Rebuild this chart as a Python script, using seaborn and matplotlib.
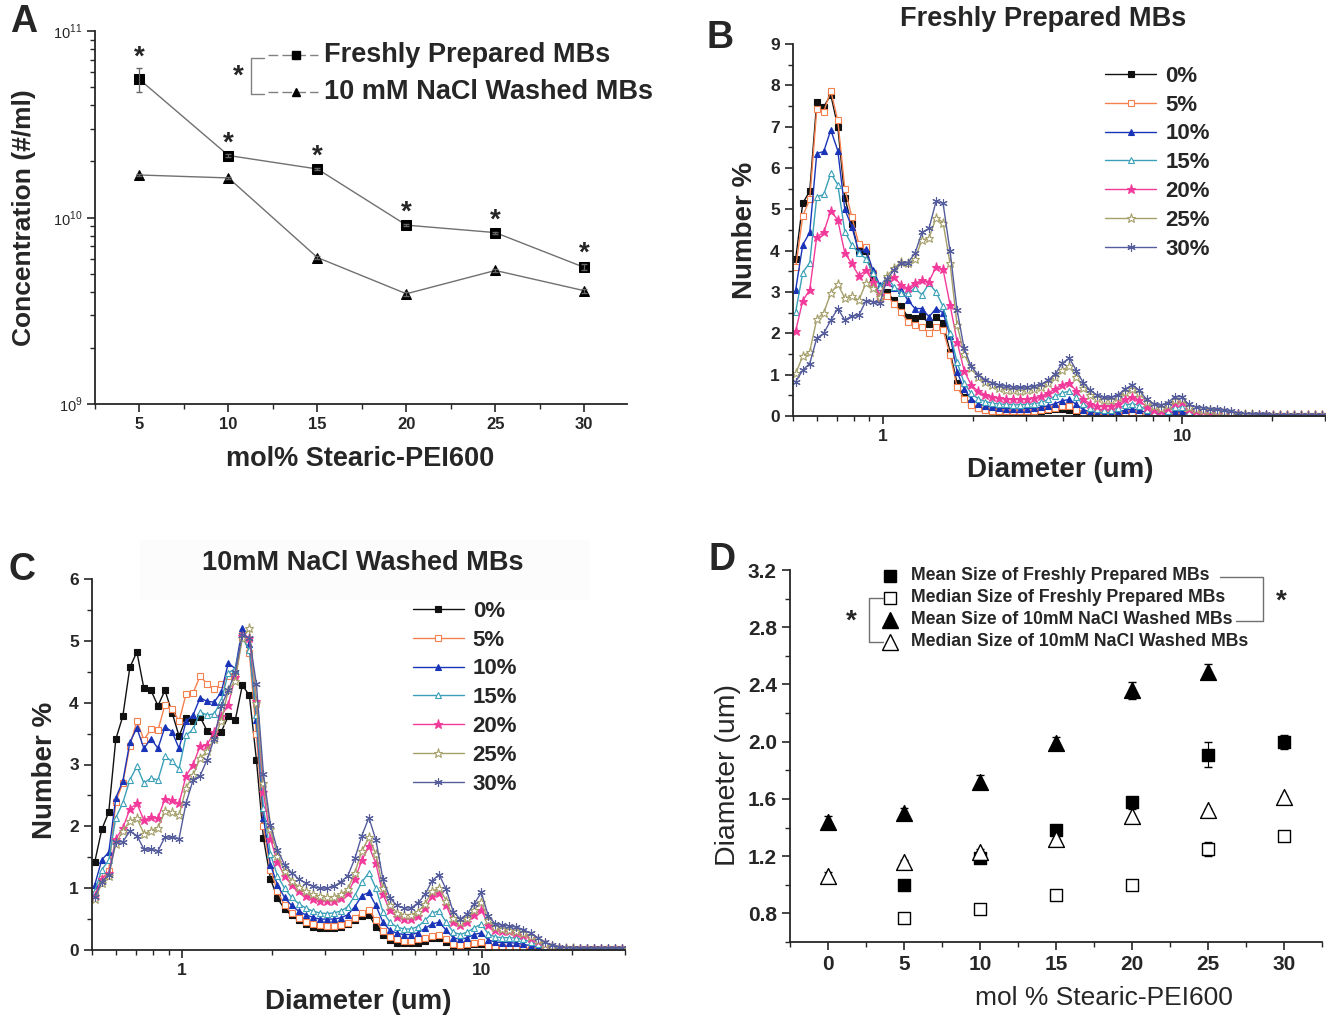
import numpy as np
import matplotlib
matplotlib.use('Agg')
import matplotlib.pyplot as plt
from matplotlib.lines import Line2D
from matplotlib.patches import Rectangle
from matplotlib.ticker import MultipleLocator, LogLocator, NullFormatter
import seaborn as sns

W, H = 1326, 1018

# ── Panel A: concentration vs mol% ────────────────────────────────
mol_a = [5, 10, 15, 20, 25, 30]
conc_fresh = [5.5e10, 2.15e10, 1.82e10, 9.1e9, 8.3e9, 5.4e9]
conc_fresh_err = [0.8e10, 0.03e10, 0.03e10, 0.01e10, 0.01e10, 0.02e10]
conc_washed = [1.69e10, 1.63e10, 6.1e9, 3.9e9, 5.2e9, 4.05e9]
conc_washed_err = [0.02e10, 0.02e10, 0.01e10, 0.01e10, 0.01e10, 0.01e10]

# ── Panels B / C: size distributions (Number %) ───────────────────
diam = [0.5105, 0.5390, 0.5687, 0.6003, 0.6335, 0.6687, 0.7058, 0.7450, 0.7862, 0.8299,
        0.8759, 0.9246, 0.9759, 1.0300, 1.0872, 1.1475, 1.2112, 1.2784, 1.3494, 1.4243,
        1.5031, 1.5867, 1.6748, 1.7677, 1.8658, 1.9694, 2.0786, 2.1941, 2.3158, 2.4444,
        2.5800, 2.7232, 2.8743, 3.0339, 3.2022, 3.3800, 3.5675, 3.7654, 3.9744, 4.1949,
        4.4259, 4.6715, 4.9307, 5.2044, 5.4932, 5.7980, 6.1196, 6.4594, 6.8181, 7.1961,
        7.5955, 8.0169, 8.4619, 8.9314, 9.4270, 9.9483, 10.500, 11.083, 11.698, 12.347,
        13.032, 13.755, 14.518, 15.324, 16.174, 17.072, 18.019, 19.019, 20.074, 21.188,
        22.364, 23.604, 24.915, 26.297, 27.755, 29.297]

labels_pct = ['0%', '5%', '10%', '15%', '20%', '25%', '30%']

fresh_0 = [3.81, 5.15, 5.44, 7.60, 7.48, 7.77, 7.00, 5.27, 4.64, 3.98, 4.00, 3.35, 2.85, 3.00, 2.80,
           2.65, 2.40, 2.38, 2.42, 2.23, 2.40, 2.25, 1.55, 0.80, 0.45, 0.30,
           0.20, 0.14, 0.11, 0.10, 0.10, 0.10, 0.10, 0.10, 0.11, 0.12, 0.14, 0.16, 0.17, 0.15, 0.06,
           0.02, 0.01,
           0, 0, 0, 0, 0, 0, 0, 0, 0, 0, 0,
           0, 0, 0, 0, 0, 0, 0, 0, 0, 0, 0,
           0, 0, 0, 0, 0, 0, 0, 0, 0, 0, 0]
fresh_5 = [3.60, 4.84, 5.24, 7.42, 7.36, 7.87, 7.15, 5.50, 4.82, 4.16, 4.10, 3.45, 2.85, 2.90, 2.72,
           2.52, 2.28, 2.20, 2.16, 2.00, 2.16, 2.08, 1.48, 0.70, 0.42, 0.27,
           0.20, 0.15, 0.13, 0.12, 0.12, 0.12, 0.12, 0.12, 0.13, 0.14,
           0.16, 0.19, 0.23, 0.25, 0.15, 0.07, 0.05, 0.04, 0.04, 0.05,
           0.06, 0.08, 0.09, 0.07, 0.04, 0.02, 0.02, 0.03, 0.05, 0.05,
           0.02, 0.02, 0.01,
           0.01, 0.01, 0.01, 0.01, 0.01, 0.01, 0.01, 0.01, 0.01, 0.01, 0.01, 0.01, 0.01, 0.01,
           0.01, 0.01, 0.01]
fresh_10 = [3.06, 4.14, 4.44, 6.35, 6.40, 6.92, 6.42, 5.00, 4.58, 3.97, 4.04, 3.53, 3.17, 3.23, 3.09,
            3.05, 2.80, 2.60, 2.60, 2.40, 2.60, 2.50, 1.94, 1.07, 0.65, 0.42,
            0.30, 0.24, 0.21, 0.19, 0.18, 0.18, 0.18, 0.18, 0.19, 0.21,
            0.25, 0.30, 0.37, 0.40, 0.28, 0.15, 0.10, 0.08, 0.07, 0.08,
            0.10, 0.14, 0.17, 0.14, 0.08, 0.05, 0.05, 0.07, 0.10, 0.10,
            0.05, 0.04, 0.04, 0.03, 0.03, 0.02, 0.02,
            0.01, 0.01, 0.01, 0.01, 0.01, 0.01, 0.01, 0.01, 0.01, 0.01, 0.01, 0.01, 0.01]
fresh_15 = [2.52, 3.47, 3.71, 5.30, 5.36, 5.87, 5.60, 4.46, 4.14, 3.94, 3.81, 3.45, 3.13, 3.37, 3.13,
            2.97, 2.97, 3.09, 2.93, 3.21, 3.00, 2.65, 2.00, 1.30, 0.80, 0.55,
            0.42, 0.35, 0.31, 0.29, 0.28, 0.27, 0.27, 0.28, 0.30, 0.33,
            0.40, 0.48, 0.56, 0.60, 0.45, 0.28, 0.20, 0.16, 0.14, 0.15,
            0.19, 0.26, 0.30, 0.25, 0.14, 0.10, 0.09, 0.13, 0.21, 0.22,
            0.10, 0.08, 0.07, 0.06, 0.05, 0.04, 0.03, 0.02,
            0.02, 0.02, 0.02, 0.02, 0.02, 0.02, 0.02, 0.02, 0.02, 0.02, 0.02, 0.02]
fresh_20 = [2.06, 2.79, 3.05, 4.34, 4.44, 4.97, 4.74, 3.94, 3.69, 3.39, 3.53, 3.25, 2.93, 3.25, 3.37,
            3.17, 3.09, 3.21, 3.29, 3.25, 3.61, 3.55, 2.69, 1.80, 1.10, 0.75,
            0.60, 0.52, 0.47, 0.44, 0.42, 0.41, 0.41, 0.42, 0.44, 0.48,
            0.56, 0.66, 0.76, 0.80, 0.60, 0.40, 0.30, 0.25, 0.23, 0.24,
            0.30, 0.40, 0.47, 0.38, 0.22, 0.15, 0.13, 0.19, 0.32, 0.33,
            0.16, 0.12, 0.11, 0.10, 0.09, 0.07, 0.05, 0.04, 0.03, 0.03,
            0.02, 0.02, 0.02, 0.02, 0.02, 0.02, 0.02, 0.02, 0.02, 0.02]
fresh_25 = [1.03, 1.45, 1.56, 2.34, 2.50, 2.97, 3.19, 2.85, 2.90, 2.80, 3.21, 3.09, 2.89, 3.39, 3.57,
            3.73, 3.69, 3.81, 4.26, 4.30, 4.80, 4.68, 3.69, 2.20, 1.50, 1.15,
            0.95, 0.82, 0.74, 0.68, 0.64, 0.62, 0.61, 0.62, 0.65, 0.70,
            0.80, 0.95, 1.12, 1.20, 0.95, 0.68, 0.52, 0.43, 0.38, 0.38,
            0.45, 0.57, 0.65, 0.55, 0.35, 0.24, 0.20, 0.26, 0.38, 0.40,
            0.22, 0.17, 0.15, 0.14, 0.12, 0.10, 0.08, 0.06, 0.05, 0.04,
            0.03, 0.03,
            0.02, 0.02, 0.02, 0.02, 0.02, 0.02, 0.02, 0.02]
fresh_30 = [0.83, 1.11, 1.27, 1.88, 2.00, 2.32, 2.60, 2.32, 2.42, 2.44, 2.78, 2.77, 2.73, 3.31, 3.53,
            3.69, 3.71, 3.94, 4.44, 4.54, 5.19, 5.15, 3.98, 2.56, 1.64, 1.20,
            1.00, 0.88, 0.80, 0.75, 0.72, 0.70, 0.69, 0.70, 0.72, 0.77,
            0.87, 1.02, 1.28, 1.40, 1.10, 0.80, 0.62, 0.50, 0.45, 0.45,
            0.52, 0.66, 0.75, 0.62, 0.40, 0.30, 0.26, 0.32, 0.46, 0.47,
            0.28, 0.22, 0.20, 0.18, 0.16, 0.14, 0.11, 0.08, 0.06, 0.05,
            0.04, 0.04, 0.03,
            0.03, 0.03, 0.03, 0.03, 0.03, 0.03, 0.03]

washed_0 = [1.42, 1.95, 2.23, 3.41, 3.78, 4.57, 4.82, 4.23, 4.20, 3.95, 4.20, 3.84, 3.46, 3.75,
            3.70, 3.77, 3.54, 3.46, 3.53, 3.78, 3.72, 4.28, 4.12, 3.08, 1.81, 1.15, 0.84,
            0.66, 0.56, 0.48, 0.42, 0.38, 0.36, 0.35, 0.36, 0.38, 0.42,
            0.48, 0.55, 0.57, 0.38, 0.25, 0.16, 0.12, 0.11, 0.11, 0.12,
            0.15, 0.19, 0.20, 0.13, 0.07, 0.06, 0.07, 0.09, 0.10, 0.04,
            0.03, 0.02, 0.02, 0.01,
            0, 0, 0, 0, 0, 0, 0, 0, 0, 0, 0, 0, 0, 0, 0]
washed_5 = [0.90, 1.15, 1.28, 2.40, 2.70, 3.30, 3.70, 3.40, 3.57, 3.55, 3.97, 3.90, 3.70, 4.14,
            4.16, 4.43, 4.30, 4.22, 4.30, 4.43, 4.45, 5.10, 4.80, 3.50, 2.00, 1.30, 0.95,
            0.72, 0.60, 0.52, 0.46, 0.42, 0.40, 0.39, 0.39, 0.41, 0.44,
            0.52, 0.60, 0.65, 0.48, 0.30, 0.21, 0.17, 0.15, 0.15, 0.17,
            0.20, 0.23, 0.24, 0.17, 0.10, 0.08, 0.09, 0.12, 0.13, 0.07,
            0.05, 0.05, 0.04, 0.03,
            0.03, 0.02, 0.02, 0.01, 0.01, 0.01, 0.01, 0.01, 0.01, 0.01, 0.01, 0.01, 0.01, 0.01, 0.01]
washed_10 = [1.05, 1.46, 1.58, 2.46, 2.73, 3.36, 3.59, 3.26, 3.42, 3.26, 3.61, 3.53, 3.26, 3.70,
             3.80, 4.08, 4.02, 4.01, 4.17, 4.64, 4.55, 5.20, 4.95, 3.72, 2.14, 1.38, 1.05,
             0.85, 0.72, 0.63, 0.57, 0.53, 0.50, 0.50, 0.50, 0.52, 0.57,
             0.70, 0.88, 0.93, 0.72, 0.45, 0.32, 0.27, 0.25, 0.25, 0.28,
             0.35, 0.42, 0.45, 0.32, 0.20, 0.17, 0.20, 0.25, 0.28, 0.16,
             0.13, 0.12, 0.12, 0.11,
             0.09, 0.07, 0.05, 0.03, 0.02, 0.02, 0.02, 0.02, 0.02, 0.02, 0.02, 0.02, 0.02, 0.02, 0.02]
washed_15 = [0.95, 1.30, 1.45, 2.14, 2.38, 2.75, 2.97, 2.70, 2.78, 2.75, 3.13, 3.05, 2.93, 3.47,
             3.57, 3.85, 3.80, 3.82, 4.03, 4.48, 4.55, 5.05, 4.85, 3.80, 2.30, 1.55, 1.20,
             1.00, 0.85, 0.75, 0.68, 0.63, 0.60, 0.59, 0.60, 0.63, 0.70,
             0.88, 1.10, 1.25, 1.00, 0.62, 0.45, 0.37, 0.34, 0.34, 0.38,
             0.48, 0.60, 0.63, 0.45, 0.29, 0.25, 0.29, 0.36, 0.42, 0.26,
             0.21, 0.20, 0.20, 0.19,
             0.17, 0.13, 0.09, 0.06, 0.04, 0.03, 0.02, 0.02, 0.02, 0.02, 0.02, 0.02, 0.02, 0.02, 0.02]
washed_20 = [0.88, 1.15, 1.25, 1.80, 1.97, 2.28, 2.37, 2.10, 2.15, 2.13, 2.45, 2.42, 2.37, 2.82,
             3.00, 3.30, 3.32, 3.53, 3.78, 3.97, 4.42, 5.08, 5.05, 4.03, 2.55, 1.80, 1.42,
             1.20, 1.05, 0.95, 0.88, 0.83, 0.80, 0.79, 0.80, 0.84, 0.92,
             1.15, 1.45, 1.68, 1.40, 0.90, 0.64, 0.54, 0.50, 0.50, 0.55,
             0.68, 0.88, 0.92, 0.72, 0.46, 0.40, 0.45, 0.57, 0.65, 0.41,
             0.33, 0.31, 0.30, 0.28,
             0.25, 0.20, 0.14, 0.09, 0.05, 0.03, 0.02, 0.02, 0.02, 0.02, 0.02, 0.02, 0.02, 0.02, 0.02]
washed_25 = [0.82, 1.08, 1.20, 1.72, 1.93, 2.08, 2.13, 1.88, 1.93, 1.98, 2.24, 2.23, 2.18, 2.62,
             2.83, 3.10, 3.22, 3.42, 3.70, 4.20, 4.35, 5.05, 5.20, 4.00, 2.70, 1.95, 1.52,
             1.28, 1.12, 1.02, 0.95, 0.90, 0.87, 0.85, 0.86, 0.90, 0.98,
             1.25, 1.60, 1.82, 1.55, 1.00, 0.72, 0.60, 0.57, 0.57, 0.62,
             0.75, 0.95, 1.00, 0.80, 0.52, 0.45, 0.52, 0.65, 0.78, 0.48,
             0.37, 0.34, 0.33, 0.30,
             0.27, 0.22, 0.16, 0.10, 0.06, 0.04, 0.03, 0.03, 0.02, 0.02, 0.02, 0.02, 0.02, 0.02, 0.02]
washed_30 = [0.85, 1.10, 1.22, 1.75, 1.75, 1.92, 1.85, 1.63, 1.63, 1.60, 1.83, 1.82, 1.80, 2.38,
             2.75, 2.82, 3.08, 3.42, 3.95, 4.20, 4.50, 5.10, 5.05, 4.30, 2.85, 2.02, 1.62,
             1.38, 1.25, 1.15, 1.08, 1.03, 1.00, 1.00, 1.03, 1.10, 1.20,
             1.48, 1.85, 2.14, 1.78, 1.15, 0.84, 0.72, 0.68, 0.68, 0.76,
             0.90, 1.12, 1.22, 0.98, 0.62, 0.50, 0.58, 0.75, 0.93, 0.55,
             0.42, 0.40, 0.39, 0.37,
             0.33, 0.27, 0.20, 0.13, 0.08, 0.05, 0.04, 0.03, 0.03, 0.03, 0.03, 0.03, 0.03, 0.03, 0.03]

fresh_series = [fresh_0, fresh_5, fresh_10, fresh_15, fresh_20, fresh_25, fresh_30]
washed_series = [washed_0, washed_5, washed_10, washed_15, washed_20, washed_25, washed_30]

# ── Panel D: mean / median diameters ──────────────────────────────
mol_d = [0, 5, 10, 15, 20, 25, 30]
mean_fresh = [np.nan, 1.00, 1.19, 1.38, 1.58, 1.91, 2.00]
mean_fresh_err = [np.nan, 0.02, 0.02, 0.03, 0.02, 0.09, 0.05]
median_fresh = [np.nan, 0.77, 0.83, 0.93, 1.00, 1.25, 1.34]
median_fresh_err = [np.nan, 0.02, 0.01, 0.02, 0.02, 0.05, 0.02]
mean_washed = [1.44, 1.50, 1.72, 1.99, 2.36, 2.49, np.nan]
mean_washed_err = [0.04, 0.04, 0.05, 0.04, 0.06, 0.05, np.nan]
median_washed = [1.06, 1.16, 1.23, 1.32, 1.48, 1.52, 1.61]
median_washed_err = [0.03, 0.01, 0.02, 0.05, 0.05, 0.01, 0.01]

# ── Style ─────────────────────────────────────────────────────────
sns.set_style('ticks')
plt.rcParams['font.family'] = ['Liberation Sans', 'DejaVu Sans']
plt.rcParams['mathtext.fontset'] = 'custom'
plt.rcParams['mathtext.rm'] = 'Liberation Sans'
plt.rcParams['axes.linewidth'] = 1.3

colors = ['#111111', '#F5804F', '#1A34B8', '#3AA0B8', '#F23A9B', '#A59F6A', '#555C9C']
markers = ['s', 's', '^', '^', '*', '*', (6, 2, 0)]
faces = ['#111111', 'white', '#1A34B8', 'white', '#F23A9B', 'white', '#555C9C']
msizes = [4.5, 4.5, 5, 5, 6.5, 6.5, 6]

fig = plt.figure(figsize=(W / 100, H / 100), dpi=100)


def px_rect(x0, y0, x1, y1):
    return [x0 / W, 1 - y1 / H, (x1 - x0) / W, (y1 - y0) / H]


def fx(px):
    return px / W


def fy(py):
    return 1 - py / H


def style_axes(ax):
    sns.despine(ax=ax)
    ax.tick_params(which='major', direction='out', length=6, width=1.2)
    ax.tick_params(which='minor', direction='out', length=3.5, width=1.0)


# very faint box behind the C title (drawn under everything)
fig.patches.append(Rectangle((fx(140), fy(600)), fx(450), 60 / H, transform=fig.transFigure,
                             facecolor='#FCFCFC', edgecolor='none', zorder=-10))

axA = fig.add_axes(px_rect(95, 31, 627, 404))
axB = fig.add_axes(px_rect(793, 44, 1325, 416))
axC = fig.add_axes(px_rect(92, 579, 625, 950))
axD = fig.add_axes(px_rect(790, 570, 1322, 942))
for ax in (axA, axB, axC, axD):
    ax.patch.set_alpha(0)

# ── A ─────────────────────────────────────────────────────────────
sns.lineplot(x=mol_a, y=conc_fresh, ax=axA, color='#707070', lw=1.0, marker='s', markersize=6.5,
             markerfacecolor='black', markeredgecolor='black', estimator=None)
sns.lineplot(x=mol_a, y=conc_washed, ax=axA, color='#707070', lw=1.0, marker='^', markersize=7,
             markerfacecolor='black', markeredgecolor='black', estimator=None)
axA.errorbar(mol_a, conc_fresh, yerr=conc_fresh_err, fmt='none', ecolor='#666666', elinewidth=0.9, capsize=2.5)
axA.errorbar(mol_a, conc_washed, yerr=conc_washed_err, fmt='none', ecolor='#666666', elinewidth=0.9, capsize=2.5)
axA.set_yscale('log')
axA.set_ylim(1e9, 1e11)
axA.set_xlim(2.5, 32.4)
axA.set_xticks(mol_a, labels=[str(v) for v in mol_a], fontweight='bold', fontsize=12)
axA.xaxis.set_minor_locator(MultipleLocator(2.5))
axA.set_yticks([1e9, 1e10, 1e11], labels=[r'$10^{9}$', r'$10^{10}$', r'$10^{11}$'], fontsize=10.5)
axA.yaxis.set_minor_locator(LogLocator(base=10, subs=np.arange(2, 10)))
axA.yaxis.set_minor_formatter(NullFormatter())
style_axes(axA)
axA.tick_params(axis='y', which='major', pad=3)
axA.set_xlabel('mol% Stearic-PEI600', fontsize=19.5, fontweight='bold')
axA.xaxis.set_label_coords(0.498, -0.113)
axA.set_ylabel('Concentration (#/ml)', fontsize=19, fontweight='bold')
axA.yaxis.set_label_coords(-0.11, 0.5)
for x, y, e in zip(mol_a, conc_fresh, conc_fresh_err):
    axA.annotate('*', (x, y + e), xytext=(0, 3), textcoords='offset points', ha='center',
                 va='baseline', fontsize=20, fontweight='bold')

# A legend, drawn by hand with the bracket
for py, m in [(55, 's'), (92, '^')]:
    fig.add_artist(Line2D([fx(268), fx(318)], [fy(py), fy(py)], color='#808080', lw=1.0,
                          dashes=(7, 3), transform=fig.transFigure))
    fig.add_artist(Line2D([fx(296)], [fy(py)], marker=m, ms=5.5, color='black', linestyle='none',
                          transform=fig.transFigure))
fig.text(fx(324), fy(55), 'Freshly Prepared MBs', ha='left', va='center', fontsize=19.5, fontweight='bold')
fig.text(fx(324), fy(92), '10 mM NaCl Washed MBs', ha='left', va='center', fontsize=19.5, fontweight='bold')
fig.add_artist(Line2D([fx(264), fx(251), fx(251), fx(264)], [fy(58), fy(58), fy(94), fy(94)],
                      color='#808080', lw=1.0, transform=fig.transFigure))
fig.text(fx(238), fy(77), '*', ha='center', va='center', fontsize=20, fontweight='bold')

# ── B and C ───────────────────────────────────────────────────────
for ax, series in [(axB, fresh_series), (axC, washed_series)]:
    for vals, lab, c, m, fc, ms in zip(series, labels_pct, colors, markers, faces, msizes):
        sns.lineplot(x=diam, y=vals, ax=ax, color=c, lw=1.0, marker=m, markersize=ms,
                     markerfacecolor=fc, markeredgecolor=c, markeredgewidth=0.8,
                     estimator=None, label=lab)
    ax.set_xscale('log')
    ax.set_xlim(0.5, 30)
    ax.set_xticks([1, 10], labels=['1', '10'], fontweight='bold', fontsize=12.5)
    ax.xaxis.set_minor_locator(LogLocator(base=10, subs=np.arange(2, 10)))
    ax.xaxis.set_minor_formatter(NullFormatter())
    ax.yaxis.set_minor_locator(MultipleLocator(0.5))
    style_axes(ax)
    ax.set_xlabel('Diameter (um)', fontsize=20, fontweight='bold')
    ax.set_ylabel('Number %', fontsize=20, fontweight='bold')
    ax.legend(loc='upper left', bbox_to_anchor=(0.57, 0.965), frameon=False,
              prop={'weight': 'bold', 'size': 16}, handlelength=2.3, handletextpad=0.4,
              labelspacing=0.35, borderaxespad=0)

axB.set_ylim(0, 9)
axB.set_yticks(range(10), labels=[str(v) for v in range(10)], fontweight='bold', fontsize=12.5)
axB.xaxis.set_label_coords(0.502, -0.11)
axB.yaxis.set_label_coords(-0.066, 0.5)
fig.text(fx(1043), fy(19), 'Freshly Prepared MBs', ha='center', va='center', fontsize=19.5, fontweight='bold')

axC.set_ylim(0, 6)
axC.set_yticks(range(7), labels=[str(v) for v in range(7)], fontweight='bold', fontsize=12.5)
axC.xaxis.set_label_coords(0.499, -0.105)
axC.yaxis.set_label_coords(-0.064, 0.485)
axC.get_legend().set_bbox_to_anchor((0.585, 0.965))
fig.text(fx(363), fy(563), '10mM NaCl Washed MBs', ha='center', va='center', fontsize=19.5, fontweight='bold')

# ── D ─────────────────────────────────────────────────────────────
d_sets = [
    (mean_fresh, mean_fresh_err, 's', 'black', 80),
    (median_fresh, median_fresh_err, 's', 'white', 80),
    (mean_washed, mean_washed_err, '^', 'black', 130),
    (median_washed, median_washed_err, '^', 'white', 130),
]
for vals, errs, m, fc, s in d_sets:
    axD.errorbar(mol_d, vals, yerr=errs, fmt='none', ecolor='black', elinewidth=0.8, capsize=3, zorder=2)
    sns.scatterplot(x=mol_d, y=vals, ax=axD, marker=m, s=s, facecolor=fc, edgecolor='black',
                    linewidth=1.0, zorder=3)
axD.set_xlim(-2.5, 32.5)
axD.set_ylim(0.6, 3.2)
axD.set_xticks(mol_d, labels=[str(v) for v in mol_d], fontweight='bold', fontsize=15)
axD.xaxis.set_minor_locator(MultipleLocator(2.5))
yt = [0.8, 1.2, 1.6, 2.0, 2.4, 2.8, 3.2]
axD.set_yticks(yt, labels=[f'{v:.1f}' for v in yt], fontweight='bold', fontsize=15)
axD.yaxis.set_minor_locator(MultipleLocator(0.2))
style_axes(axD)
axD.set_xlabel('mol % Stearic-PEI600', fontsize=19)
axD.xaxis.set_label_coords(0.59, -0.118)
axD.set_ylabel('Diameter (um)', fontsize=20.5)
axD.yaxis.set_label_coords(-0.093, 0.449)

d_rows = [
    (576, 's', 'black', 'Mean Size of Freshly Prepared MBs'),
    (598, 's', 'white', 'Median Size of Freshly Prepared MBs'),
    (620, '^', 'black', 'Mean Size of 10mM NaCl Washed MBs'),
    (642, '^', 'white', 'Median Size of 10mM NaCl Washed MBs'),
]
for py, m, fc, txt in d_rows:
    fig.add_artist(Line2D([fx(890)], [fy(py)], marker=m, ms=9 if m == 's' else 11, markerfacecolor=fc,
                          markeredgecolor='black', linestyle='none', transform=fig.transFigure))
    fig.text(fx(911), fy(py), txt, ha='left', va='center', fontsize=12.7, fontweight='bold')
fig.add_artist(Line2D([fx(1220), fx(1263), fx(1263), fx(1236)], [fy(577), fy(577), fy(621), fy(621)],
                      color='#707070', lw=1.0, transform=fig.transFigure))
fig.text(fx(1281), fy(602), '*', ha='center', va='center', fontsize=20, fontweight='bold')
fig.add_artist(Line2D([fx(883), fx(869), fx(869), fx(883)], [fy(598), fy(598), fy(642), fy(642)],
                      color='#707070', lw=1.0, transform=fig.transFigure))
fig.text(fx(851), fy(622), '*', ha='center', va='center', fontsize=20, fontweight='bold')

# ── Panel letters ─────────────────────────────────────────────────
for txt, px, py in [('A', 24, 22), ('B', 720, 38), ('C', 22, 570), ('D', 722, 560)]:
    fig.text(fx(px), fy(py), txt, ha='center', va='center', fontsize=27, fontweight='bold')

fig.savefig('out.png', dpi=100)
plt.close(fig)
